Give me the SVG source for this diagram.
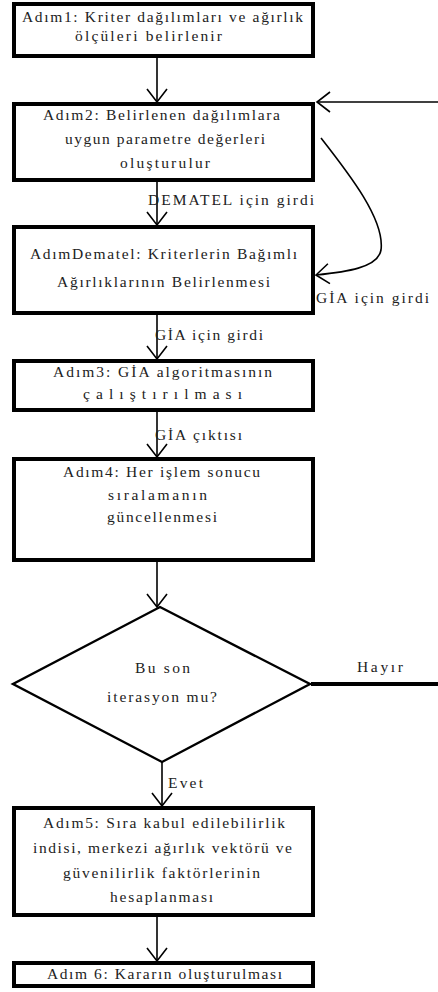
<svg xmlns="http://www.w3.org/2000/svg" width="438" height="992" viewBox="0 0 438 992">
<style>
.box{fill:#fff;stroke:#000;stroke-width:4}
.t{font-family:"Liberation Serif","Times New Roman",serif;font-size:15.5px;fill:#222}
.ln{fill:none;stroke:#000;stroke-width:1.6}
</style>
<defs>
<marker id="ah" markerUnits="userSpaceOnUse" markerWidth="16" markerHeight="24" refX="13" refY="11" orient="auto" overflow="visible">
<path d="M0,1 L13,11 L0,21" fill="none" stroke="#000" stroke-width="1.6"/>
</marker>
</defs>
<rect width="438" height="992" fill="#fff"/>
<g id="connectors">
<line class="ln" x1="157" y1="58" x2="157" y2="102" marker-end="url(#ah)"/>
<line class="ln" x1="438" y1="102" x2="317" y2="102" marker-end="url(#ah)"/>
<path class="ln" d="M321,138 C350,175 385,220 381,250 C378,268 345,272 316,275" marker-end="url(#ah)"/>
<line class="ln" x1="157" y1="182" x2="157" y2="225" marker-end="url(#ah)"/>
<line class="ln" x1="157" y1="315" x2="157" y2="359" marker-end="url(#ah)"/>
<line class="ln" x1="157" y1="412" x2="157" y2="457" marker-end="url(#ah)"/>
<line class="ln" x1="157" y1="562" x2="157" y2="607" marker-end="url(#ah)"/>
<line class="ln" x1="162" y1="762" x2="162" y2="806" marker-end="url(#ah)"/>
<line class="ln" x1="157" y1="917" x2="157" y2="961" marker-end="url(#ah)"/>
<line x1="311" y1="684" x2="438" y2="684" stroke="#000" stroke-width="4"/>
<text class="t" x="148" y="205" textLength="166" lengthAdjust="spacing">DEMATEL için girdi</text>
<text class="t" x="316" y="303" textLength="113" lengthAdjust="spacing">GİA için girdi</text>
<text class="t" x="155" y="340" textLength="108" lengthAdjust="spacing">GİA için girdi</text>
<text class="t" x="155" y="440" textLength="87" lengthAdjust="spacing">GİA çıktısı</text>
<text class="t" x="357" y="672" textLength="46" lengthAdjust="spacing">Hayır</text>
<text class="t" x="168" y="788" textLength="35" lengthAdjust="spacing">Evet</text>
</g>
<g id="adim1">
<rect class="box" x="14" y="4" width="299" height="52"/>
<text class="t" x="22" y="22" textLength="281" lengthAdjust="spacing">Adım1: Kriter dağılımları ve ağırlık</text>
<text class="t" x="75" y="41" textLength="147" lengthAdjust="spacing">ölçüleri belirlenir</text>
</g>
<g id="adim2">
<rect class="box" x="14" y="104" width="299" height="76"/>
<text class="t" x="43" y="120" textLength="237" lengthAdjust="spacing">Adım2: Belirlenen dağılımlara</text>
<text class="t" x="65" y="144" textLength="200" lengthAdjust="spacing">uygun parametre değerleri</text>
<text class="t" x="120" y="168" textLength="90" lengthAdjust="spacing">oluşturulur</text>
</g>
<g id="adimDematel">
<rect class="box" x="14" y="227" width="299" height="86"/>
<text class="t" x="30" y="259" textLength="267" lengthAdjust="spacing">AdımDematel: Kriterlerin Bağımlı</text>
<text class="t" x="57" y="287" textLength="213" lengthAdjust="spacing">Ağırlıklarının Belirlenmesi</text>
</g>
<g id="adim3">
<rect class="box" x="14" y="361" width="299" height="49"/>
<text class="t" x="53" y="377" textLength="219" lengthAdjust="spacing">Adım3: GİA algoritmasının</text>
<text class="t" x="83" y="399" textLength="159" lengthAdjust="spacing">çalıştırılması</text>
</g>
<g id="adim4">
<rect class="box" x="14" y="459" width="299" height="101"/>
<text class="t" x="63" y="477" textLength="197" lengthAdjust="spacing">Adım4: Her işlem sonucu</text>
<text class="t" x="108" y="500" textLength="99" lengthAdjust="spacing">sıralamanın</text>
<text class="t" x="107" y="522" textLength="110" lengthAdjust="spacing">güncellenmesi</text>
</g>
<g id="karar">
<polygon points="160,607 310,684 162,762 13,684" fill="#fff" stroke="#000" stroke-width="2.4" stroke-linejoin="miter"/>
<text class="t" x="135" y="673" textLength="55" lengthAdjust="spacing">Bu son</text>
<text class="t" x="107" y="702" textLength="110" lengthAdjust="spacing">iterasyon mu?</text>
</g>
<g id="adim5">
<rect class="box" x="14" y="808" width="299" height="107"/>
<text class="t" x="43" y="828" textLength="242" lengthAdjust="spacing">Adım5: Sıra kabul edilebilirlik</text>
<text class="t" x="33" y="853" textLength="259" lengthAdjust="spacing">indisi, merkezi ağırlık vektörü ve</text>
<text class="t" x="63" y="878" textLength="197" lengthAdjust="spacing">güvenilirlik faktörlerinin</text>
<text class="t" x="110" y="902" textLength="103" lengthAdjust="spacing">hesaplanması</text>
</g>
<g id="adim6">
<rect class="box" x="14" y="963" width="299" height="23"/>
<text class="t" x="47" y="979" textLength="235" lengthAdjust="spacing">Adım 6: Kararın oluşturulması</text>
</g>
</svg>
